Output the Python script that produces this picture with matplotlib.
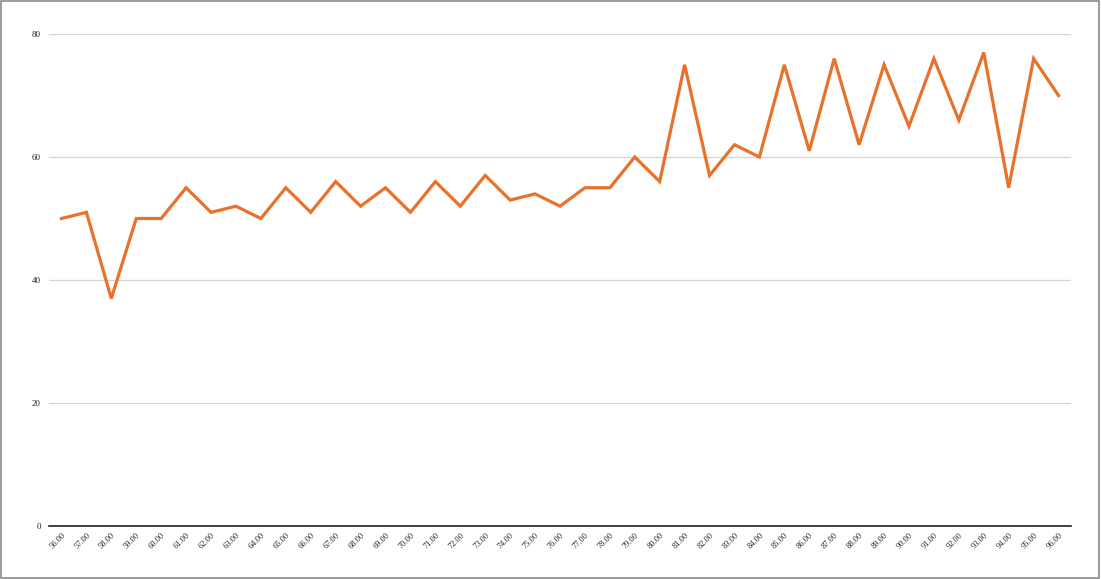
import matplotlib
matplotlib.use("Agg")
import matplotlib.pyplot as plt
from matplotlib.patches import Rectangle

categories = [f"{v:.2f}" for v in range(56, 97)]
values = [50, 51, 37, 50, 50, 55, 51, 52, 50, 55, 51, 56, 52, 55, 51, 56, 52, 57,
          53, 54, 52, 55, 55, 60, 56, 75, 57, 62, 60, 75, 61, 76, 62, 75, 65, 76,
          66, 77, 55, 76, 70]
yticks = [0, 20, 40, 60, 80]

W, H = 1101, 579
fig = plt.figure(figsize=(W / 100, H / 100), dpi=100)
ax = fig.add_axes([49 / W, (H - 526) / H, (1071 - 49) / W, (526 - 34) / H])

x = list(range(len(categories)))
ax.plot(x, values, color="#E8722C", linewidth=2.3, solid_joinstyle="miter", zorder=3)

ax.set_xlim(-0.5, len(categories) - 0.5)
ax.set_ylim(0, 80)
ax.set_yticks(yticks)
ax.set_yticklabels([str(t) for t in yticks], fontsize=6.5, family="Liberation Serif", color="#222222")
ax.set_xticks(x)
ax.set_xticklabels(categories, rotation=45, ha="right", va="top", rotation_mode="anchor",
                   fontsize=6, family="Liberation Serif", color="#222222")
ax.tick_params(axis="both", length=0, pad=6)
ax.tick_params(axis="x", pad=4)
ax.grid(axis="y", color="#d4d4d4", linewidth=0.9)
ax.set_axisbelow(True)
for s in ["top", "right", "left"]:
    ax.spines[s].set_visible(False)
ax.spines["bottom"].set_color("#222222")
ax.spines["bottom"].set_linewidth(1.2)
ax.spines["bottom"].set_zorder(4)

fig.patches.append(Rectangle((0.5 / W, 1.5 / H), (W - 2.5) / W, (H - 2.5) / H,
                             transform=fig.transFigure, fill=False,
                             edgecolor="#8a8a8a", linewidth=1.2))

fig.savefig("out.png", dpi=100)
